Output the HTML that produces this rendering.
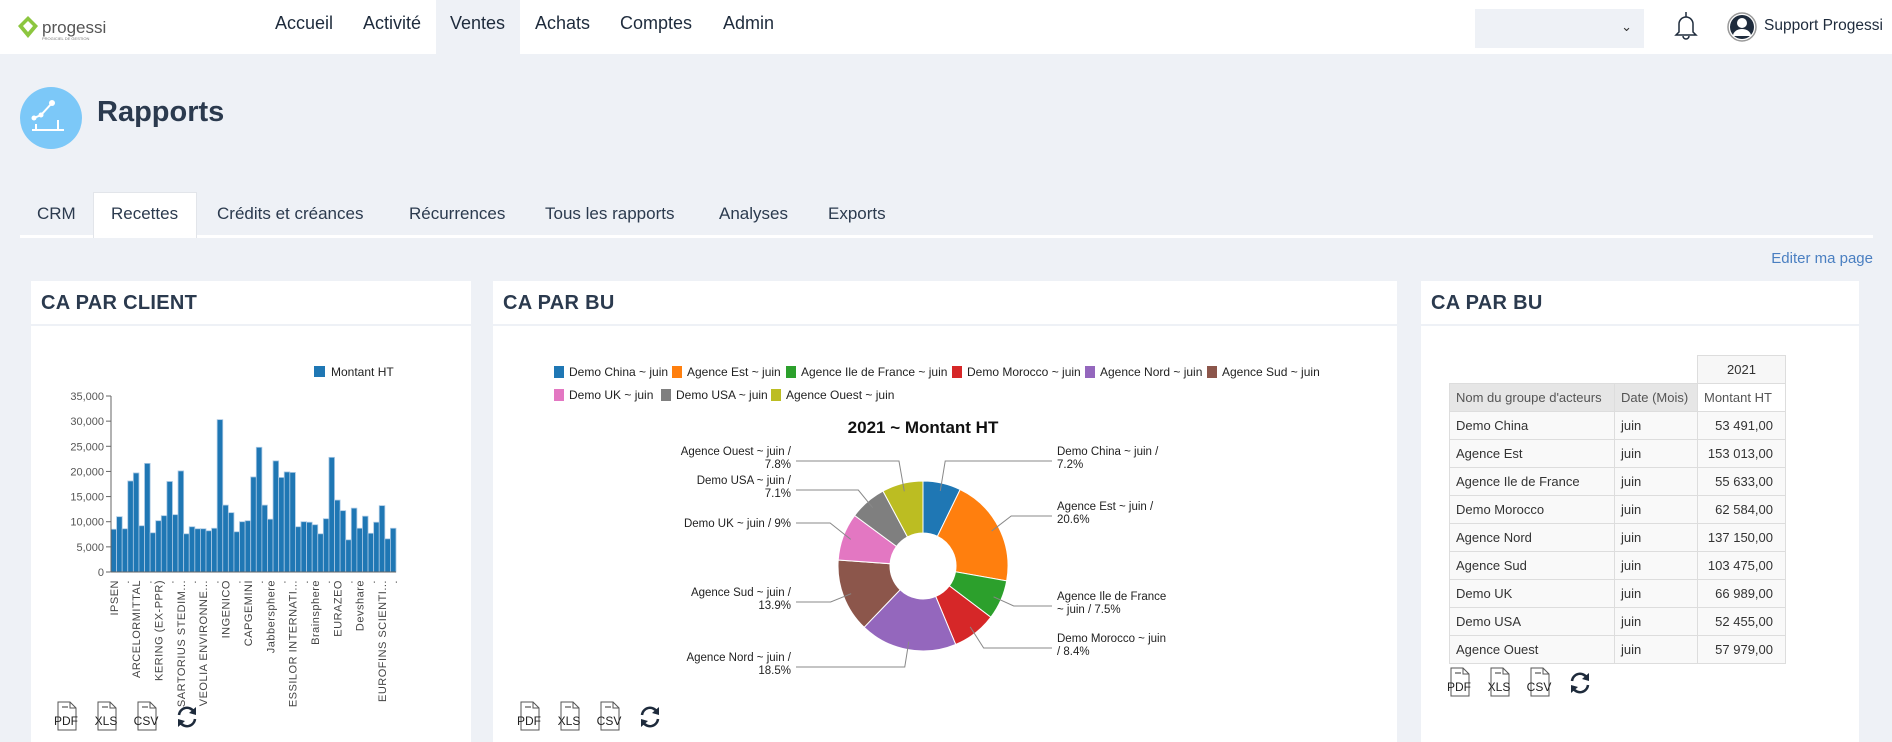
<!DOCTYPE html>
<html><head><meta charset="utf-8">
<style>
*{box-sizing:border-box;margin:0;padding:0}
body{width:1892px;height:742px;overflow:hidden;background:#eef1f6;font-family:"Liberation Sans",sans-serif;position:relative;color:#2b3a4e}
.abs{position:absolute;white-space:nowrap}
.nav{left:0;top:0;width:1892px;height:54px;background:#fff}
.navi{top:13px;font-size:18px;color:#1e2b3c}
.tab{top:204px;font-size:17px;color:#2b3a4e}
.panel{background:#fff;top:281px;height:461px}
.ph{position:absolute;left:0;top:0;right:0;height:45px;border-bottom:2px solid #eef1f6}
.pt{position:absolute;left:10px;top:11px;font-size:20px;font-weight:bold;color:#2b3a4e;letter-spacing:0.3px}
table{border-collapse:collapse;font-size:13px;color:#333}
td{border:1px solid #ddd;height:28px;padding:0 6px;background:#f9f9f9}
</style></head><body>
<div class="abs nav"></div>
<div class="abs" style="left:18px;top:14px;width:115px;height:28px">
<svg width="115" height="28"><polygon points="10,2 20,12 10,24 0,12" fill="#8cc63f"/><polygon points="10,7 15,12 10,18 5,12" fill="#fff"/><text x="24" y="19" font-size="17" fill="#555" font-family="Liberation Sans">progessi</text><text x="24" y="26" font-size="4" fill="#777">PROGICIEL DE GESTION</text></svg></div>
<div class="abs" style="left:436px;top:0;width:84px;height:54px;background:#eef1f6"></div>
<div class="abs navi" style="left:275px">Accueil</div>
<div class="abs navi" style="left:363px">Activité</div>
<div class="abs navi" style="left:450px">Ventes</div>
<div class="abs navi" style="left:535px">Achats</div>
<div class="abs navi" style="left:620px">Comptes</div>
<div class="abs navi" style="left:723px">Admin</div>
<div class="abs" style="left:1475px;top:9px;width:169px;height:39px;background:#eef1f6"><span style="position:absolute;right:12px;top:10px;font-size:13px;color:#333">&#8964;</span></div>
<svg class="abs" style="left:1670px;top:10px" width="32" height="32"><path d="M9 22 V14 a7 7 0 0 1 14 0 V22 l3 3 H6 z M13 26 a3 3 0 0 0 6 0" fill="none" stroke="#1e2b3c" stroke-width="1.5"/><line x1="16" y1="2" x2="16" y2="7" stroke="#1e2b3c" stroke-width="1.5"/></svg>
<svg class="abs" style="left:1727px;top:12px" width="30" height="30"><circle cx="15" cy="15" r="14" fill="#fff" stroke="#999" stroke-width="1.5"/><circle cx="15" cy="15" r="12" fill="#1e2b3c"/><circle cx="15" cy="11" r="5" fill="#fff"/><path d="M6 24 a9 7 0 0 1 18 0" fill="#fff"/></svg>
<div class="abs" style="left:1764px;top:17px;font-size:15.5px;color:#1e2b3c">Support Progessi</div>

<svg class="abs" style="left:20px;top:87px" width="62" height="62"><circle cx="31" cy="31" r="31" fill="#7cc8f8"/><polyline points="14,31 21,28 32,16" fill="none" stroke="#fff" stroke-width="2"/><circle cx="21" cy="28" r="2.5" fill="#fff"/><circle cx="14" cy="31" r="2.5" fill="#fff"/><circle cx="32" cy="16" r="3" fill="#fff"/><line x1="12" y1="43" x2="44" y2="43" stroke="#fff" stroke-width="2"/><line x1="16" y1="43" x2="16" y2="37" stroke="#fff" stroke-width="2"/><line x1="38" y1="43" x2="38" y2="33" stroke="#fff" stroke-width="2"/></svg>
<div class="abs" style="left:97px;top:96px;font-size:29px;font-weight:bold;color:#2b3a4e">Rapports</div>

<div class="abs" style="left:20px;top:235px;width:1853px;height:3px;background:#fff"></div>
<div class="abs" style="left:93px;top:192px;width:104px;height:46px;background:#fff;border:1px solid #e2e5ea;border-bottom:none"></div>
<div class="abs tab" style="left:37px">CRM</div>
<div class="abs tab" style="left:111px">Recettes</div>
<div class="abs tab" style="left:217px">Crédits et créances</div>
<div class="abs tab" style="left:409px">Récurrences</div>
<div class="abs tab" style="left:545px">Tous les rapports</div>
<div class="abs tab" style="left:719px">Analyses</div>
<div class="abs tab" style="left:828px">Exports</div>
<div class="abs" style="right:19px;top:250px;font-size:15px;color:#4a7fc1">Editer ma page</div>

<div class="abs panel" style="left:31px;width:440px"><div class="ph"><div class="pt">CA PAR CLIENT</div></div></div>
<div class="abs panel" style="left:493px;width:904px"><div class="ph"><div class="pt">CA PAR BU</div></div></div>
<div class="abs panel" style="left:1421px;width:438px"><div class="ph"><div class="pt">CA PAR BU</div></div></div>

<svg class="abs" id="bar" style="left:0;top:0" width="480" height="742"></svg>
<svg class="abs" id="pie" style="left:0;top:0" width="1400" height="742"></svg>

<div class="abs" style="left:1449px;top:355px">
<table>
<tr><td style="border:none;background:none;width:165px"></td><td style="border:none;background:none;width:83px"></td><td style="width:88px;text-align:center;background:#f7f7f7">2021</td></tr>
<tr><td style="background:#e6e6e6;color:#555">Nom du groupe d'acteurs</td><td style="background:#e6e6e6;color:#555">Date (Mois)</td><td style="background:#fff;color:#555">Montant HT</td></tr>
<tbody id="tb"></tbody></table></div>

<script>
const clients=["IPSEN",".","ARCELORMITTAL",".","KERING (EX-PPR)",".","SARTORIUS STEDIM...",".","VEOLIA ENVIRONNE...",".","INGENICO",".","CAPGEMINI",".","Jabbersphere",".","ESSILOR INTERNATI...",".","Brainsphere",".","EURAZEO",".","Devshare",".","EUROFINS SCIENTI...","."];
const montants=[8500,11000,8600,18100,19700,9200,21600,7800,10200,11200,18000,11400,20100,7600,9000,8600,8600,8200,8700,30300,13300,11800,8000,10000,10200,18900,24800,13300,10500,22100,18800,19900,19800,9000,10000,9900,9400,7600,10600,22800,14300,12200,6400,12700,8700,11100,7700,9900,13200,6600,8700];
const yTicks=[0,5000,10000,15000,20000,25000,30000,35000];
const buNames=["Demo China","Agence Est","Agence Ile de France","Demo Morocco","Agence Nord","Agence Sud","Demo UK","Demo USA","Agence Ouest"];
const buValues=[53491,153013,55633,62584,137150,103475,66989,52455,57979];
const buColors=["#1f77b4","#ff7f0e","#2ca02c","#d62728","#9467bd","#8c564b","#e377c2","#7f7f7f","#bcbd22"];
const NS="http://www.w3.org/2000/svg";
function mk(p,t,a){const e=document.createElementNS(NS,t);for(const k in a)e.setAttribute(k,a[k]);p.appendChild(e);return e;}
const bs=document.getElementById('bar');
const X0=111,X1=396,Y0=572,Y1=396,YMAX=35000;
const ys=v=>Y0-(v/YMAX)*(Y0-Y1);
const bw=(X1-X0)/montants.length;
const xs=i=>X0+i*bw;
yTicks.forEach(t=>{const l=mk(bs,'line',{x1:X0-5,x2:X0,y1:ys(t),y2:ys(t),stroke:'#666'});
const tx=mk(bs,'text',{x:X0-7,y:ys(t)+4,'text-anchor':'end','font-size':11,fill:'#555','font-family':'Liberation Sans'});tx.textContent=t.toLocaleString('en-US');});
montants.forEach((v,i)=>{const r=mk(bs,'rect',{x:xs(i),y:ys(v),width:bw,height:Y0-ys(v),fill:'#1f77b4',stroke:'#a9c8e4','stroke-width':0.8});});
mk(bs,'line',{x1:X0,x2:X0,y1:Y1,y2:Y0,stroke:'#666'});
mk(bs,'line',{x1:X0,x2:X1,y1:Y0,y2:Y0,stroke:'#666'});
clients.forEach((c,i)=>{const cx=xs(i*2)+bw/2+4;const tx=mk(bs,'text',{x:0,y:0,transform:`translate(${cx},580) rotate(-90)`,'text-anchor':'end','font-size':11,fill:'#444','font-family':'Liberation Sans','letter-spacing':'0.5'});tx.textContent=c;});
const lg=mk(bs,'rect',{x:314,y:366,width:11,height:11,fill:'#1f77b4'});
const lt=mk(bs,'text',{x:331,y:376,'font-size':12,fill:'#222','font-family':'Liberation Sans'});lt.textContent='Montant HT';
const ps=document.getElementById('pie');
const legPos=[[554,372],[672,372],[786,372],[952,372],[1085,372],[1207,372],[554,395],[661,395],[771,395]];
buNames.forEach((n,i)=>{const [x,y]=legPos[i];const r=mk(ps,'rect',{x:x,y:y-6,width:10,height:12,fill:buColors[i]});
const t=mk(ps,'text',{x:x+15,y:y+4,'font-size':12,fill:'#222','font-family':'Liberation Sans'});t.textContent=n+' ~ juin';});
const tt=mk(ps,'text',{x:923,y:433,'text-anchor':'middle','font-size':17,'font-weight':'bold',fill:'#111','font-family':'Liberation Sans'});tt.textContent='2021 ~ Montant HT';
const CX=923,CY=566,RO=85,RI=33;
const total=buValues.reduce((a,b)=>a+b,0);
const pt=(a,r)=>[CX+r*Math.sin(a),CY-r*Math.cos(a)];
const labY=[455,510,600,642,661,596,527,484,455];
let a0=0;
buValues.forEach((v,i)=>{const a1=a0+v/total*2*Math.PI;const lf=(a1-a0)>Math.PI?1:0;
const [x0,y0]=pt(a0,RO),[x1,y1]=pt(a1,RO),[x2,y2]=pt(a1,RI),[x3,y3]=pt(a0,RI);
const p=mk(ps,'path',{d:`M${x0},${y0}A${RO},${RO} 0 ${lf} 1 ${x1},${y1}L${x2},${y2}A${RI},${RI} 0 ${lf} 0 ${x3},${y3}Z`,fill:buColors[i],stroke:'#fff','stroke-width':1});
const am=(a0+a1)/2;const right=Math.sin(am)>=0;const [mx,my]=pt(am,RO-8);const [ox,oy]=pt(am,RO+14);
const ly=labY[i]+(labY[i]===527?-4:6);const ex=right?1052:796;
const ln=mk(ps,'polyline',{points:`${mx},${my} ${ox},${ly} ${ex},${ly}`,fill:'none',stroke:'#888','stroke-width':1});
const pct=(v/total*100);const ps2=(Math.round(pct*10)/10).toString()+'%';
const lines=(i===6)?[buNames[i]+' ~ juin / '+ps2]:(i===2?[buNames[i],'~ juin / '+ps2]:(i===3?[buNames[i]+' ~ juin','/ '+ps2]:[buNames[i]+' ~ juin /',ps2]));
lines.forEach((s,k)=>{const t=mk(ps,'text',{x:right?1057:791,y:labY[i]+k*13,'text-anchor':right?'start':'end','font-size':11.5,fill:'#222','font-family':'Liberation Sans'});t.textContent=s;});
a0=a1;});
const tb=document.getElementById('tb');
const fmt=v=>v.toLocaleString('fr-FR').replace(/\u202f|\u00a0/g,' ')+',00';
buNames.forEach((n,i)=>{const tr=document.createElement('tr');
tr.innerHTML=`<td>${n}</td><td>juin</td><td style="text-align:right;padding-right:12px">${fmt(buValues[i])}</td>`;tb.appendChild(tr);});
function icons(x,y,pfx){['PDF','XLS','CSV'].forEach((s,k)=>{const d=document.createElement('div');d.className='abs';
d.style.cssText=`left:${x+k*40}px;top:${y}px;width:28px;height:30px`;d.innerHTML=`<svg width="28" height="30"><path d="M6 1 H18 L24 7 V29 H6 Z" fill="#fff" stroke="#555"/><path d="M18 1 V7 H24" fill="none" stroke="#555"/><line x1="10" y1="6" x2="16" y2="6" stroke="#333"/><text x="14" y="24" text-anchor="middle" font-size="12" fill="#222" font-family="Liberation Sans">${s}</text></svg>`;document.body.appendChild(d);});
const r=document.createElement('div');r.className='abs';r.style.cssText=`left:${x+122}px;top:${y+3}px`;
r.innerHTML='<svg width="26" height="26"><path d="M5 11 A8 8 0 0 1 20 8" fill="none" stroke="#1e2b3c" stroke-width="2.5"/><path d="M21 15 A8 8 0 0 1 6 18" fill="none" stroke="#1e2b3c" stroke-width="2.5"/><polygon points="22,3 22,11 15,9" fill="#1e2b3c"/><polygon points="4,23 4,15 11,17" fill="#1e2b3c"/></svg>';document.body.appendChild(r);}
icons(52,701,'client');icons(515,701,'pie');icons(1445,667,'table');
</script>
</body></html>
